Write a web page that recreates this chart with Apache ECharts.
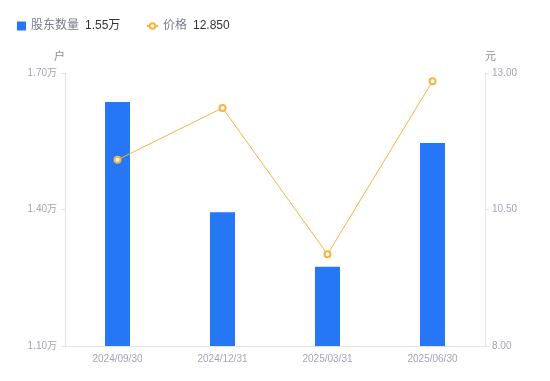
<!DOCTYPE html>
<html><head><meta charset="utf-8">
<script src="https://cdn.jsdelivr.net/npm/echarts@6/dist/echarts.min.js"></script>
<style>html,body{margin:0;padding:0;background:#fff}#c{width:550px;height:381px}</style>
</head><body><div id="c"></div>
<script>
const categories = ['2024/09/30','2024/12/31','2025/03/31','2025/06/30'];
const holders = [1.636, 1.394, 1.274, 1.546];
const prices = [11.41, 12.36, 9.68, 12.85];
const leftTicks = [1.10, 1.40, 1.70];
const rightTicks = [8.00, 10.50, 13.00];
const legendValues = {'股东数量':'1.55万','价格':'12.850'};

const chart = echarts.init(document.getElementById('c'));
const labelColor = '#a3a5b3';
const axisColor = '#e3e3e6';
const font = '"Liberation Sans",Arial,"Noto Sans CJK SC",sans-serif';
const legendText = {
  fontFamily:font,
  rich:{a:{color:'#7a7d8c',fontSize:12,fontFamily:font,padding:[0,6,0,0]},b:{color:'#333',fontSize:12,fontFamily:font}}
};
const fmt = n => '{a|'+n+'}{b|'+legendValues[n]+'}';
chart.setOption({
  animation:false,
  textStyle:{fontFamily:font},
  legend:[
    {left:12, top:15, itemWidth:9, itemHeight:9, itemGap:4,
     data:[{name:'股东数量',icon:'rect'}], formatter:fmt, textStyle:legendText},
    {left:141, top:15, itemWidth:11, itemHeight:7,
     data:[{name:'价格'}], formatter:fmt, textStyle:legendText}
  ],
  grid:{left:65,right:65,top:73,bottom:35},
  xAxis:{type:'category',data:categories,
    axisLine:{lineStyle:{color:axisColor}},axisTick:{show:false},
    axisLabel:{color:labelColor,fontSize:10,margin:8}},
  yAxis:[
    {type:'value',name:'户',min:1.10,max:1.70,interval:0.30,
     nameTextStyle:{color:'#8c8e9c',fontSize:11,align:'right'},nameGap:11,
     axisLine:{show:true,lineStyle:{color:axisColor}},axisTick:{show:true,length:4,lineStyle:{color:axisColor}},
     splitLine:{show:false},
     axisLabel:{color:labelColor,fontSize:10,margin:8,formatter:v=>v.toFixed(2)+'万'}},
    {type:'value',name:'元',min:8,max:13,interval:2.5,
     nameTextStyle:{color:'#8c8e9c',fontSize:11,align:'left'},nameGap:11,
     axisLine:{show:true,lineStyle:{color:axisColor}},axisTick:{show:true,length:4,lineStyle:{color:axisColor}},
     splitLine:{show:false},
     axisLabel:{color:labelColor,fontSize:10,margin:7,formatter:v=>v.toFixed(2)}}
  ],
  series:[
    {name:'股东数量',type:'bar',data:holders,barWidth:25,yAxisIndex:0,
     itemStyle:{color:'#2677f5'}},
    {name:'价格',type:'line',data:prices,yAxisIndex:1,symbol:'circle',symbolSize:6,
     lineStyle:{color:'#f8b33f',width:1},
     itemStyle:{color:'#fff',borderColor:'#f8b33f',borderWidth:2}}
  ]
});
</script></body></html>
